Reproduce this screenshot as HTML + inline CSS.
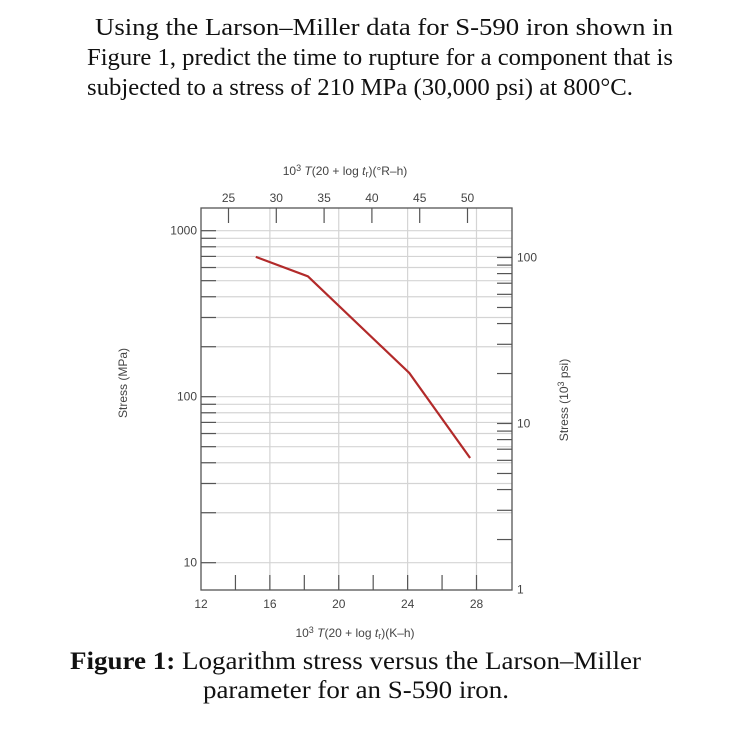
<!DOCTYPE html>
<html><head><meta charset="utf-8"><style>
body{margin:0;background:#fff;}
svg{display:block;}
</style></head><body>
<svg id="fig" width="746" height="729" viewBox="0 0 746 729" xmlns="http://www.w3.org/2000/svg">
<g font-family="'Liberation Serif', serif" font-size="24.5" fill="#111">
<text x="95" y="35" textLength="578" lengthAdjust="spacingAndGlyphs">Using the Larson–Miller data for S-590 iron shown in</text>
<text x="87" y="65" textLength="586" lengthAdjust="spacingAndGlyphs">Figure 1, predict the time to rupture for a component that is</text>
<text x="87" y="95" textLength="546" lengthAdjust="spacingAndGlyphs">subjected to a stress of 210 MPa (30,000 psi) at 800°C.</text>
</g>
<g id="chart"></g>
<g font-family="'Liberation Serif', serif" font-size="25" fill="#111">
<text x="70" y="669" textLength="571" lengthAdjust="spacingAndGlyphs"><tspan font-weight="bold">Figure 1:</tspan> Logarithm stress versus the Larson–Miller</text>
<text x="203" y="698" textLength="306" lengthAdjust="spacingAndGlyphs">parameter for an S-590 iron.</text>
</g>
</svg>
<script>
const lmpK = [15.18, 18.21, 24.1, 27.63];
const stressMPa = [695, 531, 139, 42.7];
const xTicksK = [12, 16, 20, 24, 28];
const xMinorK = [14, 16, 18, 20, 22, 24, 26, 28];
const xGridK = [16, 20, 24, 28];
const topTicksR = [25, 30, 35, 40, 45, 50];
const leftLabels = [10, 100, 1000];
const rightLabels = [1, 10, 100];

const NS = "http://www.w3.org/2000/svg";
const L = 201, R = 512, T = 208, B = 590;
const xS = k => L + (k - 12) * (476.5 - 201) / 16;
const yS = m => 396.7 - (Math.log10(m) - 2) * 166;
const xR = r => 228.5 + (r - 25) * (467.5 - 228.5) / 25;
const PSI = 6.895;
const g = document.getElementById('chart');
function mk(tag, attrs, parent) {
  const e = document.createElementNS(NS, tag);
  for (const k in attrs) e.setAttribute(k, attrs[k]);
  (parent || g).appendChild(e);
  return e;
}
const font = "'Liberation Sans', sans-serif";
const FS = 12;
function hline(v) {
  const y = yS(v);
  const gl = mk('line', {x1: L, x2: R, y1: y, y2: y, stroke: '#d4d4d4', 'stroke-width': 1.2});
  
  
  const tk = mk('line', {x1: L, x2: L + 15, y1: y, y2: y, stroke: '#555', 'stroke-width': 1.2});
  
  
}
for (const dec of [10, 100]) for (let i = 2; i <= 10; i++) hline(dec * i);
hline(10);
for (const k of xGridK) {
  const x = xS(k);
  const gl = mk('line', {x1: x, x2: x, y1: T, y2: B, stroke: '#d4d4d4', 'stroke-width': 1.2});
  
  
}
for (const dec of [1, 10]) {
  for (let i = 2; i <= 10; i++) {
    const y = yS(dec * i * PSI);
    const tk = mk('line', {x1: R - 15, x2: R, y1: y, y2: y, stroke: '#555', 'stroke-width': 1.2});
    
    
  }
}
for (const k of xMinorK) {
  const x = xS(k);
  const tk = mk('line', {x1: x, x2: x, y1: B - 15, y2: B, stroke: '#555', 'stroke-width': 1.2});
  
  
}
for (const r of topTicksR) {
  const x = xR(r);
  const tk = mk('line', {x1: x, x2: x, y1: T, y2: T + 15, stroke: '#555', 'stroke-width': 1.2});
  
  
  const t = mk('text', {x: x, y: 202, 'font-family': font, 'font-size': FS, fill: '#444', 'text-anchor': 'middle'});
  t.textContent = r;
  
  
}
const fr = mk('rect', {x: L, y: T, width: R - L, height: B - T, fill: 'none', stroke: '#555', 'stroke-width': 1.3});


for (const k of xTicksK) {
  const t = mk('text', {x: xS(k), y: 608, 'font-family': font, 'font-size': FS, fill: '#444', 'text-anchor': 'middle'});
  t.textContent = k;
  
  
}
for (const v of leftLabels) {
  const t = mk('text', {x: 197, y: yS(v) + 4, 'font-family': font, 'font-size': FS, fill: '#444', 'text-anchor': 'end'});
  t.textContent = v;
  
  
}
for (const v of rightLabels) {
  const t = mk('text', {x: 517, y: yS(v * PSI) + 4, 'font-family': font, 'font-size': FS, fill: '#444'});
  t.textContent = v;
  
  
}
function title(x, y, rot, html, name) {
  const t = mk('text', {x: x, y: y, 'font-family': font, 'font-size': FS, fill: '#444', 'text-anchor': 'middle', transform: rot ? `rotate(-90 ${x} ${y})` : ''});
  t.innerHTML = html;
  
  
}
title(345, 175, false, '10<tspan dy="-4" font-size="9">3</tspan><tspan dy="4" font-style="italic"> T</tspan>(20 + log <tspan font-style="italic">t</tspan><tspan font-size="9" dy="2">r</tspan><tspan dy="-2">)(°R–h)</tspan>', 'top-axis-title');
title(355, 637, false, '10<tspan dy="-4" font-size="9">3</tspan><tspan dy="4" font-style="italic"> T</tspan>(20 + log <tspan font-style="italic">t</tspan><tspan font-size="9" dy="2">r</tspan><tspan dy="-2">)(K–h)</tspan>', 'bottom-axis-title');
title(127, 383, true, 'Stress (MPa)', 'left-axis-title');
title(568, 400, true, 'Stress (10<tspan dy="-4" font-size="9">3</tspan><tspan dy="4"> psi)</tspan>', 'right-axis-title');
const d = lmpK.map((k, i) => (i ? 'L' : 'M') + xS(k).toFixed(1) + ' ' + yS(stressMPa[i]).toFixed(1)).join(' ');
const p = mk('path', {d: d, fill: 'none', stroke: '#b22a2a', 'stroke-width': 2.2});


</script>
</body></html>
